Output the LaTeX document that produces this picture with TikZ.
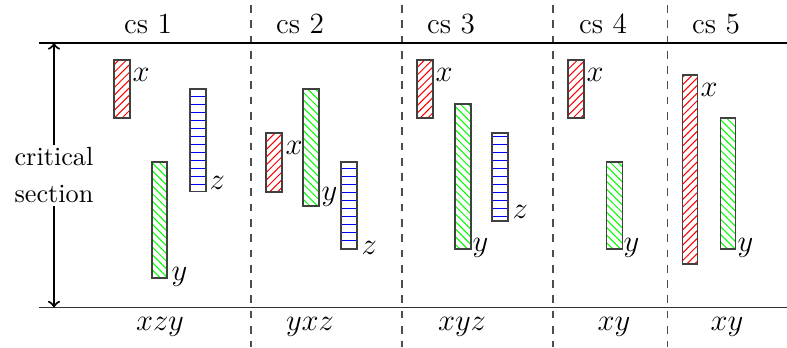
\documentclass[tikz,border=0pt]{standalone}
\usetikzlibrary{patterns}
\newcommand\hbarz[4]{%
  \begin{scope}
    \clip (#1,#2) rectangle (#3,#4);
    \foreach \k in {10,...,32} \draw[zline] (#1,8*\k+0.5) -- (#3,8*\k+0.5);
  \end{scope}
  \draw[bar] (#1,#2) rectangle (#3,#4);}
\begin{document}
\begin{tikzpicture}[x=0.013793cm, y=-0.013793cm,
  every node/.style={font=\fontsize{11.5}{14}\selectfont},
  bar/.style={draw=black!75, line width=0.4pt},
  xbar/.style={bar, pattern=north east lines, pattern color=red},
  ybar/.style={bar, pattern=north west lines, pattern color=green},
  zline/.style={draw=blue, line width=0.39pt},
  lab/.style={anchor=west, inner sep=0pt},
  head/.style={anchor=base},
  sep/.style={dashed, draw=black!70, line width=0.4pt},
  rule/.style={line width=0.4pt}]
\useasboundingbox (0,0) rectangle (787,347);

% separators
\foreach \sx in {251,402,553,667} \draw[sep] (\sx,5) -- (\sx,347);
\draw[rule] (39,43) -- (787,43);
\draw[rule, draw=black!80] (39,307.5) -- (787,307.5);

% headers
\node[head] (h1) at (148,33) {cs 1};
\node[head] (h2) at (300,33) {cs 2};
\node[head] (h3) at (451,33) {cs 3};
\node[head] (h4) at (603,33) {cs 4};
\node[head] (h5) at (716,33) {cs 5};

% footers
\node[head] (f1) at (160,330) {$xzy$};
\node[head] (f2) at (310,330) {$yxz$};
\node[head] (f3) at (462,330) {$xyz$};
\node[head] (f4) at (614,330) {$xy$};
\node[head] (f5) at (727,330) {$xy$};

% critical section
\node[align=center, inner sep=1pt, font=\fontsize{10.3}{14.5}\selectfont] (cs) at (54,175.5) {critical\\section};
\coordinate (atop) at (54,43);
\coordinate (abot) at (54,307.5);
\draw[thick,->] (cs.north) -- (atop);
\draw[thick,->] (cs.south) -- (abot);

% cs 1
\draw[xbar] (114,60) rectangle (130,118);
\node[lab] (l1x) at (132,75) {$x$};
\draw[ybar] (152,162) rectangle (167,278);
\node[lab] (l1y) at (171,277) {$y$};
\hbarz{190}{89}{206}{191.5}
\node[lab] (l1z) at (209,183) {$z$};

% cs 2
\draw[xbar] (266,133) rectangle (282,192);
\node[lab] (l2x) at (285,147.5) {$x$};
\draw[ybar] (303,89) rectangle (319,206);
\node[lab] (l2y) at (321,197) {$y$};
\hbarz{341}{162}{357}{249}
\node[lab] (l2z) at (361,248) {$z$};

% cs 3
\draw[xbar] (417,60) rectangle (433,118);
\node[lab] (l3x) at (435,75) {$x$};
\draw[ybar] (455,104) rectangle (471,249);
\node[lab] (l3y) at (472,248) {$y$};
\hbarz{492}{133}{508}{221}
\node[lab] (l3z) at (512,211.5) {$z$};

% cs 4
\draw[xbar] (568,60) rectangle (584,118);
\node[lab] (l4x) at (586,75) {$x$};
\draw[ybar] (606,162) rectangle (622,249);
\node[lab] (l4y) at (623,248) {$y$};

% cs 5
\draw[xbar] (682,75) rectangle (697,264);
\node[lab] (l5x) at (700,89.5) {$x$};
\draw[ybar] (720,118) rectangle (735,249);
\node[lab] (l5y) at (737,248) {$y$};
\end{tikzpicture}
\end{document}
